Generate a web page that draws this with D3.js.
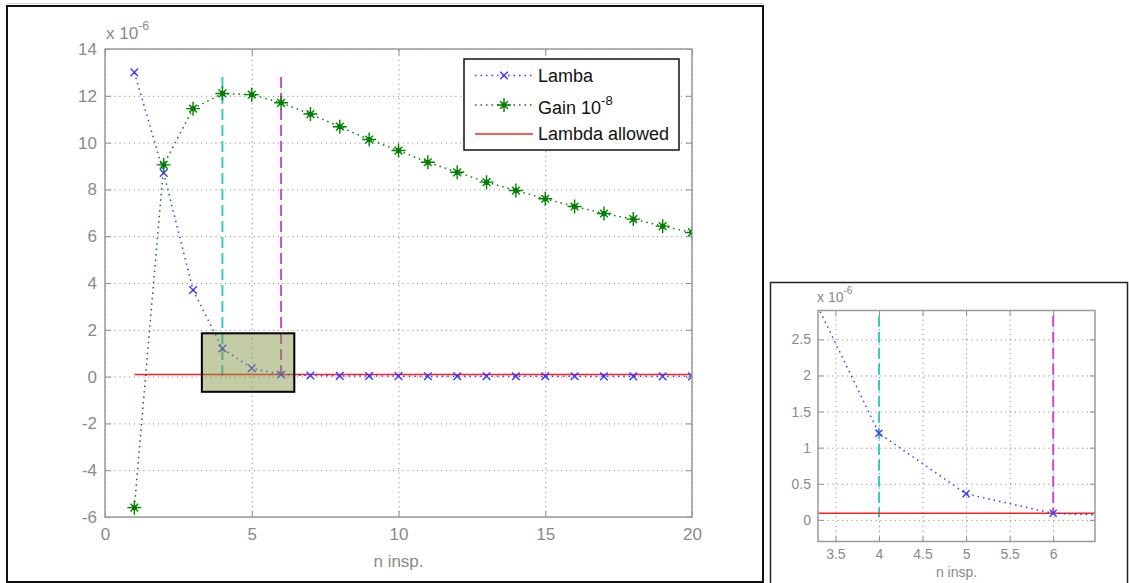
<!DOCTYPE html>
<html>
<head>
<meta charset="utf-8">
<script src="https://cdn.jsdelivr.net/npm/d3@7"></script>
<style>
  html, body { margin: 0; padding: 0; background: #ffffff; }
  svg { display: block; font-family: "Liberation Sans", Arial, sans-serif; }
  .grid line { stroke: #8f8f8f; stroke-width: 1; stroke-dasharray: 1.2,3.6; }
  .grid path { display: none; }
  .tk line { stroke: #8c8c8c; stroke-width: 1; }
  .tk path { display: none; }
  .tk text { fill: #8a8a8a; }
</style>
</head>
<body>
<svg id="chart" width="1129" height="583"></svg>
<script>
// ---------------- data (values in units of 1e-6) ----------------
const nInsp = [1, 2, 3, 4, 5, 6, 7, 8, 9, 10, 11, 12, 13, 14, 15, 16, 17, 18, 19, 20];
const lamba = [13.0, 8.7, 3.7, 1.2, 0.36, 0.09, 0.045, 0.03, 0.025, 0.02, 0.018, 0.016, 0.015, 0.014, 0.013, 0.012, 0.011, 0.01, 0.01, 0.01];
const gain = [-5.6, 9.05, 11.45, 12.1, 12.05, 11.7, 11.22, 10.68, 10.13, 9.66, 9.16, 8.73, 8.31, 7.95, 7.6, 7.27, 6.97, 6.73, 6.43, 6.16];
const lambdaAllowedX = [1, 20];
const lambdaAllowedY = [0.09, 0.09];
const vMarkX = [4, 6];
const vMarkY = [0.04, 12.8];
const zoomBoxX = [3.3, 6.45];
const zoomBoxY = [-0.65, 1.85];
const mainXTicks = [0, 5, 10, 15, 20];
const mainYTicks = [-6, -4, -2, 0, 2, 4, 6, 8, 10, 12, 14];
const insetXTicks = [3.5, 4, 4.5, 5, 5.5, 6];
const insetYTicks = [0, 0.5, 1, 1.5, 2, 2.5];
const legendLabels = ["Lamba", "Gain 10", "Lambda allowed"];
const xLabel = "n insp.";

const svg = d3.select("#chart");
svg.append("rect").attr("width", 1129).attr("height", 583).attr("fill", "#ffffff");

// outer figure frames
svg.append("line").attr("x1", 7).attr("x2", 763).attr("y1", 3.5).attr("y2", 3.5).attr("stroke", "#d0d0d0").attr("stroke-width", 1);
svg.append("rect").attr("x", 7).attr("y", 6).attr("width", 756).attr("height", 576)
  .attr("fill", "none").attr("stroke", "#111").attr("stroke-width", 2);
svg.append("rect").attr("x", 770.5).attr("y", 282.5).attr("width", 357).attr("height", 320)
  .attr("fill", "none").attr("stroke", "#222").attr("stroke-width", 1.5);

const BLUE = "#3a3aff", GREEN = "#008000", RED = "#ff2020", CYAN = "#3cc8c8", MAG = "#c84ac8";
const hyphenFmt = f => (v => f(v).replace("\u2212", "-"));

function drawAxes(g, x, y, xt, yt) {
  const [x0, x1] = x.range(), [y0, y1] = y.range();
  const w = x1 - x0, h = y0 - y1;
  g.append("g").attr("class", "grid").attr("transform", `translate(0,${y0})`)
    .call(d3.axisBottom(x).tickValues(xt).tickSize(-h).tickFormat(""));
  g.append("g").attr("class", "grid").attr("transform", `translate(${x0},0)`)
    .call(d3.axisLeft(y).tickValues(yt).tickSize(-w).tickFormat(""));
}

function frameAxes(g, x, y, xt, yt, fs, tickLen, xTickDy, yTickDx, fmt) {
  const [x0, x1] = x.range(), [y0, y1] = y.range();
  const bottom = g.append("g").attr("class", "tk").attr("transform", `translate(0,${y0})`)
    .call(d3.axisBottom(x).tickValues(xt).tickSize(-tickLen).tickFormat(fmt));
  bottom.selectAll("text").attr("y", xTickDy).attr("dy", "0.35em").style("font-size", fs + "px");
  g.append("g").attr("class", "tk").attr("transform", `translate(0,${y1})`)
    .call(d3.axisTop(x).tickValues(xt).tickSize(-tickLen).tickFormat(""));
  const left = g.append("g").attr("class", "tk").attr("transform", `translate(${x0},0)`)
    .call(d3.axisLeft(y).tickValues(yt).tickSize(-tickLen).tickFormat(fmt));
  left.selectAll("text").attr("x", -yTickDx).style("font-size", fs + "px");
  g.append("g").attr("class", "tk").attr("transform", `translate(${x1},0)`)
    .call(d3.axisRight(y).tickValues(yt).tickSize(-tickLen).tickFormat(""));
  g.append("rect").attr("x", x0).attr("y", y1).attr("width", x1 - x0).attr("height", y0 - y1)
    .attr("fill", "none").attr("stroke", "#9a9a9a").attr("stroke-width", 1.5);
}

function xMarker(g, cx, cy, s, color) {
  g.append("path").attr("d", `M${cx - s},${cy - s}L${cx + s},${cy + s}M${cx - s},${cy + s}L${cx + s},${cy - s}`)
    .attr("stroke", color).attr("stroke-width", 1.4).attr("fill", "none");
}
function starMarker(g, cx, cy, s, color) {
  const d = s * 0.55;
  g.append("path").attr("d", `M${cx - s},${cy}L${cx + s},${cy}M${cx},${cy - s}L${cx},${cy + s}M${cx - d},${cy - d}L${cx + d},${cy + d}M${cx - d},${cy + d}L${cx + d},${cy - d}`)
    .attr("stroke", color).attr("stroke-width", 1.4).attr("fill", "none");
  g.append("circle").attr("cx", cx).attr("cy", cy).attr("r", 2.6).attr("fill", color);
}

function expLabel(g, x, y, fs) {
  const t = g.append("text").attr("x", x).attr("y", y).attr("fill", "#8a8a8a").style("font-size", fs + "px");
  t.append("tspan").text("x 10");
  t.append("tspan").attr("dy", -fs * 0.55).style("font-size", (fs * 0.72) + "px").text("-6");
}

// ---------------- main plot ----------------
const mx = d3.scaleLinear().domain([0, 20]).range([105, 692]);
const my = d3.scaleLinear().domain([-6, 14]).range([517, 49]);
const main = svg.append("g");
drawAxes(main, mx, my, mainXTicks, mainYTicks);

main.append("defs").append("clipPath").attr("id", "mainClip")
  .append("rect").attr("x", 105).attr("y", 49).attr("width", 587).attr("height", 468);
const mp = main.append("g").attr("clip-path", "url(#mainClip)");

const lineGen = (x, y) => d3.line().x(d => x(d[0])).y(d => y(d[1]));

mp.append("line").attr("x1", mx(vMarkX[0])).attr("x2", mx(vMarkX[0])).attr("y1", my(vMarkY[1])).attr("y2", my(vMarkY[0]))
  .attr("stroke", CYAN).attr("stroke-width", 2).attr("stroke-dasharray", "11,5");
mp.append("line").attr("x1", mx(vMarkX[1])).attr("x2", mx(vMarkX[1])).attr("y1", my(vMarkY[1])).attr("y2", my(lamba[5]))
  .attr("stroke", MAG).attr("stroke-width", 2).attr("stroke-dasharray", "11,5");

mp.append("path").attr("d", lineGen(mx, my)(lambdaAllowedX.map((v, i) => [v, lambdaAllowedY[i]])))
  .attr("stroke", RED).attr("stroke-width", 1.5).attr("fill", "none");

mp.append("path").attr("d", lineGen(mx, my)(nInsp.map((v, i) => [v, lamba[i]])))
  .attr("stroke", BLUE).attr("stroke-width", 1.5).attr("fill", "none").attr("stroke-dasharray", "1.5,4");
nInsp.forEach((v, i) => xMarker(mp, mx(v), my(lamba[i]), 3.8, BLUE));

mp.append("path").attr("d", lineGen(mx, my)(nInsp.map((v, i) => [v, gain[i]])))
  .attr("stroke", GREEN).attr("stroke-width", 1.5).attr("fill", "none").attr("stroke-dasharray", "1.5,4");
nInsp.forEach((v, i) => starMarker(mp, mx(v), my(gain[i]), 7, GREEN));

main.append("rect").attr("x", mx(zoomBoxX[0])).attr("y", my(zoomBoxY[1]))
  .attr("width", mx(zoomBoxX[1]) - mx(zoomBoxX[0])).attr("height", my(zoomBoxY[0]) - my(zoomBoxY[1]))
  .attr("fill", "#7f923f").attr("fill-opacity", 0.47).attr("stroke", "#000").attr("stroke-width", 2);

frameAxes(main, mx, my, mainXTicks, mainYTicks, 17, 6, 17, 8, hyphenFmt(d3.format("d")));
expLabel(main, 106, 39, 17);
main.append("text").attr("x", (105 + 692) / 2).attr("y", 561).attr("dy", "0.35em").attr("text-anchor", "middle")
  .attr("fill", "#8a8a8a").style("font-size", "17px").text(xLabel);

// legend
const lg = main.append("g");
lg.append("rect").attr("x", 464).attr("y", 59).attr("width", 215).attr("height", 91)
  .attr("fill", "#fff").attr("stroke", "#111").attr("stroke-width", 1.5);
const rowsY = [75.5, 105, 134];
lg.append("line").attr("x1", 475).attr("x2", 533).attr("y1", rowsY[0]).attr("y2", rowsY[0])
  .attr("stroke", BLUE).attr("stroke-width", 1.5).attr("stroke-dasharray", "1.5,4");
xMarker(lg, 504, rowsY[0], 3.8, BLUE);
lg.append("line").attr("x1", 475).attr("x2", 533).attr("y1", rowsY[1]).attr("y2", rowsY[1])
  .attr("stroke", GREEN).attr("stroke-width", 1.5).attr("stroke-dasharray", "1.5,4");
starMarker(lg, 504, rowsY[1], 7, GREEN);
lg.append("line").attr("x1", 475).attr("x2", 533).attr("y1", rowsY[2]).attr("y2", rowsY[2])
  .attr("stroke", RED).attr("stroke-width", 1.5);
lg.append("text").attr("x", 538).attr("y", rowsY[0]).attr("dy", "0.35em").style("font-size", "18px").attr("fill", "#111").text(legendLabels[0]);
const gt = lg.append("text").attr("x", 538).attr("y", rowsY[1] + 3).attr("dy", "0.35em").style("font-size", "18px").attr("fill", "#111");
gt.append("tspan").text(legendLabels[1]);
gt.append("tspan").attr("dy", -9).style("font-size", "13px").text("-8");
lg.append("text").attr("x", 538).attr("y", rowsY[2]).attr("dy", "0.35em").style("font-size", "18px").attr("fill", "#111").text(legendLabels[2]);

// ---------------- inset plot ----------------
const ix = d3.scaleLinear().domain([3.3, 6.48]).range([818, 1095]);
const iy = d3.scaleLinear().domain([-0.3, 2.9]).range([541.5, 310.5]);
const inset = svg.append("g");
drawAxes(inset, ix, iy, insetXTicks, insetYTicks);
inset.append("defs").append("clipPath").attr("id", "insetClip")
  .append("rect").attr("x", 818).attr("y", 310.5).attr("width", 277).attr("height", 231);
const ip = inset.append("g").attr("clip-path", "url(#insetClip)");

ip.append("line").attr("x1", ix(vMarkX[0])).attr("x2", ix(vMarkX[0])).attr("y1", iy(vMarkY[1])).attr("y2", iy(vMarkY[0]))
  .attr("stroke", CYAN).attr("stroke-width", 2).attr("stroke-dasharray", "11,5");
ip.append("line").attr("x1", ix(vMarkX[1])).attr("x2", ix(vMarkX[1])).attr("y1", iy(vMarkY[1])).attr("y2", iy(lamba[5]))
  .attr("stroke", MAG).attr("stroke-width", 2).attr("stroke-dasharray", "11,5");
ip.append("path").attr("d", lineGen(ix, iy)(lambdaAllowedX.map((v, i) => [v, lambdaAllowedY[i]])))
  .attr("stroke", RED).attr("stroke-width", 1.5).attr("fill", "none");
ip.append("path").attr("d", lineGen(ix, iy)(nInsp.map((v, i) => [v, lamba[i]])))
  .attr("stroke", BLUE).attr("stroke-width", 1.5).attr("fill", "none").attr("stroke-dasharray", "1.5,4");
nInsp.forEach((v, i) => xMarker(ip, ix(v), iy(lamba[i]), 3.5, BLUE));
nInsp.forEach((v, i) => starMarker(ip, ix(v), iy(gain[i]), 7, GREEN));

frameAxes(inset, ix, iy, insetXTicks, insetYTicks, 14, 5, 13, 7, hyphenFmt(d3.format("~g")));
expLabel(inset, 817, 302, 14);
inset.append("text").attr("x", (818 + 1095) / 2).attr("y", 572).attr("dy", "0.35em").attr("text-anchor", "middle")
  .attr("fill", "#8a8a8a").style("font-size", "14px").text(xLabel);
</script>
</body>
</html>
